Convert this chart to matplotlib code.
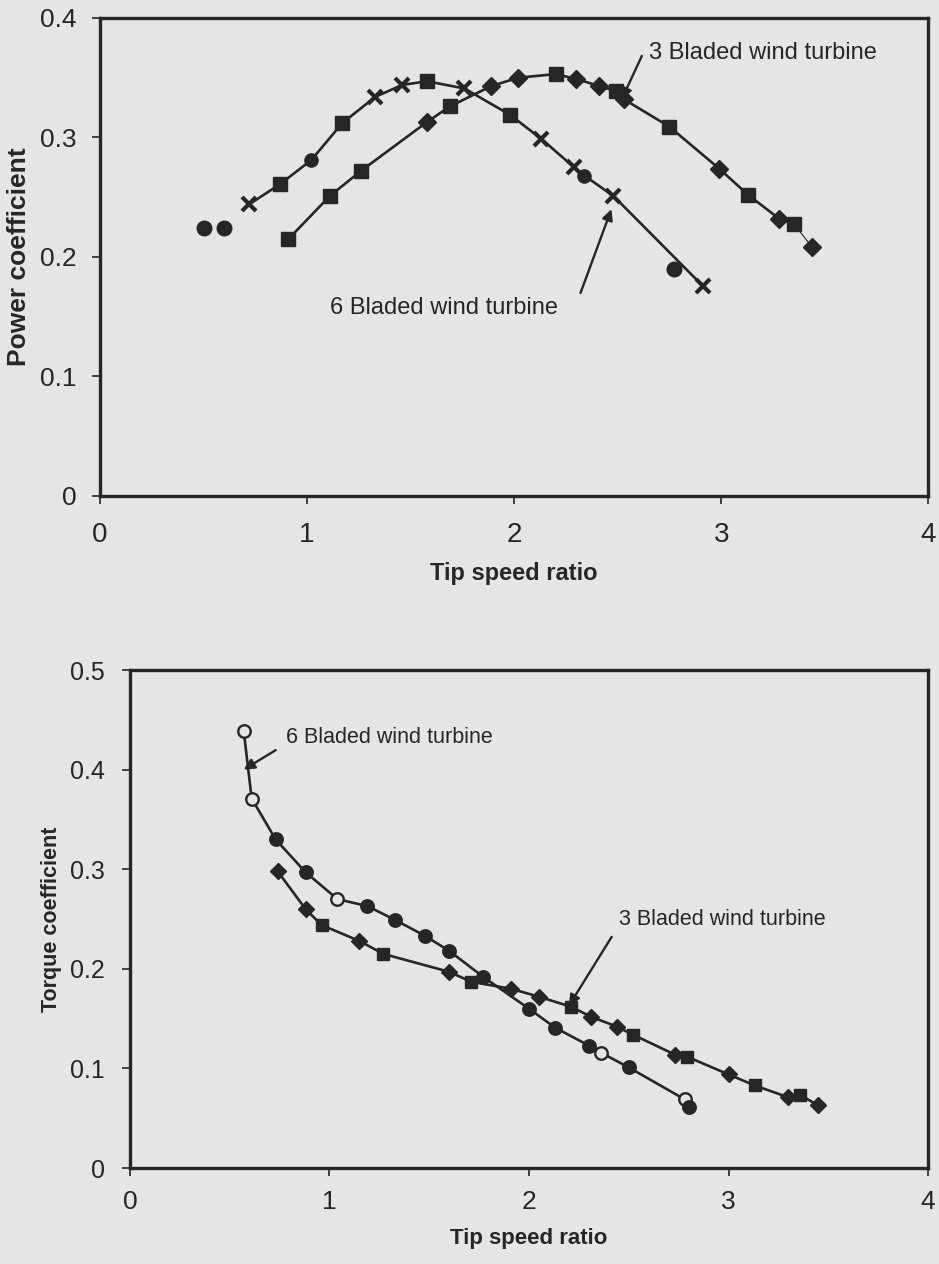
import matplotlib
matplotlib.use("Agg")
import matplotlib.pyplot as plt

# -----------------------------
# DATA
# -----------------------------
# Power coefficient vs tip speed ratio
six_cp_tsr = [0.72, 0.87, 1.02, 1.17, 1.33, 1.46, 1.58, 1.76, 1.98, 2.13, 2.29, 2.34, 2.48, 2.91]
six_cp = [0.244, 0.261, 0.281, 0.312, 0.334, 0.344, 0.347, 0.341, 0.319, 0.299, 0.275, 0.268, 0.251, 0.176]
six_cp_mk = ["x", "s", "o", "s", "x", "x", "s", "x", "s", "x", "x", "o", "x", "x"]

three_cp_tsr = [0.91, 1.11, 1.26, 1.58, 1.69, 1.89, 2.02, 2.20, 2.30, 2.41, 2.49, 2.53,
                2.75, 2.99, 3.13, 3.28, 3.35, 3.44]
three_cp = [0.215, 0.251, 0.272, 0.313, 0.326, 0.343, 0.350, 0.353, 0.349, 0.343, 0.339, 0.332,
            0.309, 0.274, 0.252, 0.232, 0.228, 0.208]
three_cp_mk = ["s", "s", "s", "D", "s", "D", "D", "s", "D", "D", "s", "D",
               "s", "D", "s", "D", "s", "D"]

stray_cp_tsr = [0.50, 0.60, 2.77]
stray_cp = [0.224, 0.224, 0.190]

# Torque coefficient vs tip speed ratio
six_ct_tsr = [0.57, 0.61, 0.73, 0.88, 1.04, 1.19, 1.33, 1.48, 1.60, 1.77, 2.00, 2.13, 2.30,
              2.36, 2.50, 2.78, 2.80]
six_ct = [0.439, 0.371, 0.330, 0.297, 0.270, 0.263, 0.249, 0.233, 0.218, 0.192, 0.160, 0.141,
          0.123, 0.116, 0.101, 0.069, 0.061]
six_ct_open = [True, True, False, False, True, False, False, False, False, False, False, False,
               False, True, False, True, False]

three_ct_tsr = [0.74, 0.88, 0.96, 1.15, 1.27, 1.60, 1.71, 1.91, 2.05, 2.21, 2.31, 2.44, 2.52,
                2.73, 2.79, 3.00, 3.13, 3.30, 3.36, 3.45]
three_ct = [0.298, 0.260, 0.244, 0.228, 0.215, 0.197, 0.187, 0.180, 0.172, 0.162, 0.152, 0.142,
            0.134, 0.114, 0.112, 0.094, 0.083, 0.071, 0.073, 0.063]
three_ct_mk = ["D", "D", "s", "D", "s", "D", "s", "D", "D", "s", "D", "D", "s",
               "D", "s", "D", "s", "D", "s", "D"]

x_ticks = [0, 1, 2, 3, 4]
x_labels = ["0", "1", "2", "3", "4"]
cp_ticks = [0, 0.1, 0.2, 0.3, 0.4]
cp_labels = ["0", "0.1", "0.2", "0.3", "0.4"]
ct_ticks = [0, 0.1, 0.2, 0.3, 0.4, 0.5]
ct_labels = ["0", "0.1", "0.2", "0.3", "0.4", "0.5"]

# -----------------------------
# STYLE
# -----------------------------
PAPER = "#e5e5e5"
INK = "#262626"
plt.rcParams["font.family"] = ["Liberation Sans", "DejaVu Sans"]

fig = plt.figure(figsize=(9.39, 12.64), dpi=100, facecolor=PAPER)


def frame(ax, yticks, ylabels, ylim, ylabel, ysize, xsize, xpad, ypad, ylab_size, xlab_size):
    ax.set_facecolor(PAPER)
    ax.set_xlim(0, 4)
    ax.set_ylim(*ylim)
    ax.set_xticks(x_ticks)
    ax.set_xticklabels(x_labels)
    ax.set_yticks(yticks)
    ax.set_yticklabels(ylabels)
    for s in ax.spines.values():
        s.set_linewidth(2.4)
        s.set_color(INK)
    ax.tick_params(axis="both", direction="out", length=6, width=1.2, color=INK,
                   labelcolor=INK)
    ax.tick_params(axis="y", pad=ypad, labelsize=ysize)
    ax.tick_params(axis="x", pad=xpad, labelsize=xsize)
    ax.set_xlabel("Tip speed ratio", fontsize=xlab_size, fontweight="bold", color=INK, labelpad=10)
    ax.set_ylabel(ylabel, fontsize=ylab_size, fontweight="bold", color=INK, labelpad=6)


def marked_line(ax, xs, ys, markers, lw=1.9, ms=9.5):
    ax.plot(xs, ys, color=INK, lw=lw, zorder=2)
    for x, y, m in zip(xs, ys, markers):
        if m == "x":
            ax.plot(x, y, marker="x", ms=ms + 0.5, mew=3, color=INK, zorder=3)
        else:
            size = ms if m == "s" else ms - 0.5
            ax.plot(x, y, marker=m, ms=size, mfc=INK, mec=INK, zorder=3)


# ---- top: power coefficient ----
ax1 = fig.add_axes([0.1065, 0.6076, 0.882, 0.3782])
frame(ax1, cp_ticks, cp_labels, (0, 0.4), "Power coefficient",
      ysize=19, xsize=20, xpad=13, ypad=11, ylab_size=19, xlab_size=17)

marked_line(ax1, six_cp_tsr, six_cp, six_cp_mk, ms=10)
marked_line(ax1, three_cp_tsr[:-1], three_cp[:-1], three_cp_mk[:-1], ms=10)
ax1.plot(three_cp_tsr[-2:], three_cp[-2:], color=INK, lw=0.8, zorder=2)
ax1.plot(three_cp_tsr[-1], three_cp[-1], marker="D", ms=9.5, color=INK, zorder=3)
ax1.plot(stray_cp_tsr, stray_cp, "o", ms=10.5, color=INK, zorder=3)

ax1.annotate("3 Bladed wind turbine", xy=(2.52, 0.332), xytext=(2.65, 0.371),
             fontsize=17, color=INK, ha="left", va="center",
             arrowprops=dict(arrowstyle="-|>", color=INK, lw=1.7, mutation_scale=16,
                             shrinkA=0, shrinkB=0, relpos=(-0.03, 0.35)))
ax1.annotate("6 Bladed wind turbine", xy=(2.47, 0.240), xytext=(1.66, 0.157),
             fontsize=17, color=INK, ha="center", va="center",
             arrowprops=dict(arrowstyle="-|>", color=INK, lw=1.7, mutation_scale=16,
                             shrinkA=0, shrinkB=0, relpos=(1.1, 1.2)))

# ---- bottom: torque coefficient ----
ax2 = fig.add_axes([0.1384, 0.0759, 0.850, 0.394])
frame(ax2, ct_ticks, ct_labels, (0, 0.5), "Torque coefficient",
      ysize=18, xsize=19, xpad=10, ypad=12, ylab_size=15.5, xlab_size=16)

ax2.plot(six_ct_tsr, six_ct, color=INK, lw=1.9, zorder=2)
for x, y, is_open in zip(six_ct_tsr, six_ct, six_ct_open):
    ax2.plot(x, y, marker="o", ms=9, mec=INK, mew=1.7,
             mfc=PAPER if is_open else INK, zorder=3)
marked_line(ax2, three_ct_tsr, three_ct, three_ct_mk, ms=9)

ax2.annotate("6 Bladed wind turbine", xy=(0.57, 0.40), xytext=(0.78, 0.432),
             fontsize=15.5, color=INK, ha="left", va="center",
             arrowprops=dict(arrowstyle="-|>", color=INK, lw=1.7, mutation_scale=16,
                             shrinkA=6, shrinkB=0, relpos=(0, 0.2)))
ax2.annotate("3 Bladed wind turbine", xy=(2.20, 0.163), xytext=(2.45, 0.25),
             fontsize=15.5, color=INK, ha="left", va="center",
             arrowprops=dict(arrowstyle="-|>", color=INK, lw=1.7, mutation_scale=16,
                             shrinkA=6, shrinkB=0, relpos=(0, 0.2)))

fig.savefig("out.png", dpi=100, facecolor=PAPER)
